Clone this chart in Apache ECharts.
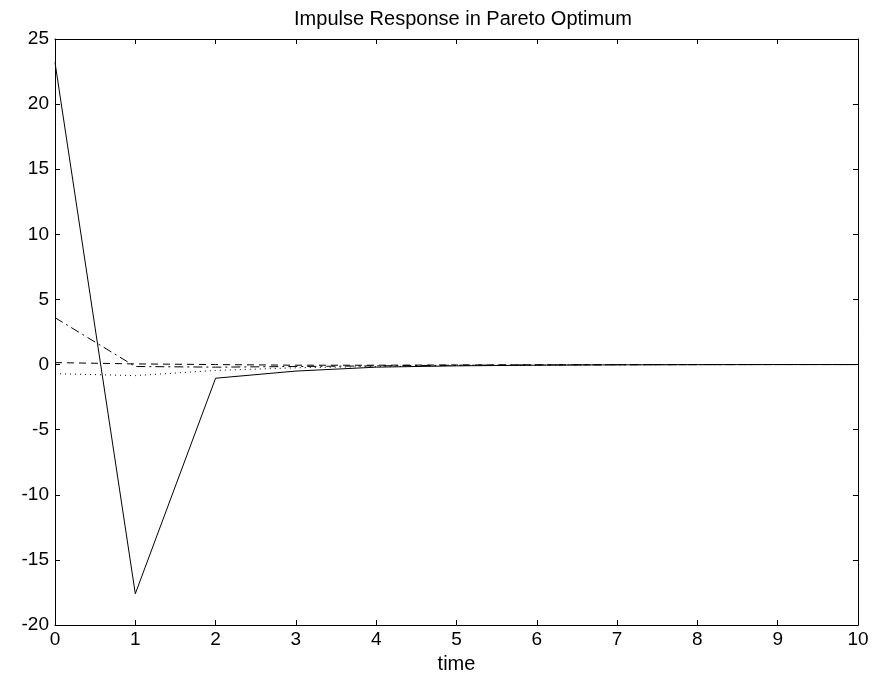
<!DOCTYPE html>
<html>
<head>
<meta charset="utf-8">
<script src="https://cdn.jsdelivr.net/npm/echarts@6/dist/echarts.min.js"></script>
<style>
  html, body { margin: 0; padding: 0; background: #fff; }
  #main { width: 876px; height: 679px; }
</style>
</head>
<body>
<div id="main"></div>
<script>
var time = [0, 1, 2, 3, 4, 5, 6, 7, 8, 9, 10];
var solid = [23.2, -17.6, -1.05, -0.5, -0.2, -0.1, -0.05, -0.02, -0.01, 0, 0];
var dashDot = [3.6, -0.15, -0.2, -0.15, -0.1, -0.05, -0.03, -0.01, 0, 0, 0];
var dashed = [0.15, 0.05, 0, -0.05, -0.05, -0.03, -0.02, -0.01, 0, 0, 0];
var dotted = [-0.7, -0.85, -0.45, -0.25, -0.15, -0.08, -0.04, -0.02, -0.01, 0, 0];
var xTicks = [0, 1, 2, 3, 4, 5, 6, 7, 8, 9, 10];
var yTicks = [-20, -15, -10, -5, 0, 5, 10, 15, 20, 25];

function pairs(ys) {
  return time.map(function (t, i) { return [t, ys[i]]; });
}

var chart = echarts.init(document.getElementById('main'));
var font = 'Liberation Sans, Arial, sans-serif';
var axisLine = { show: true, onZero: false, lineStyle: { color: '#000', width: 1 } };
var tick = { show: true, inside: true, length: 5, lineStyle: { color: '#000' } };

function lineSeries(data, type) {
  return {
    type: 'line',
    data: pairs(data),
    symbol: 'none',
    animation: false,
    lineStyle: { color: '#000', width: 1, type: type }
  };
}

var option = {
  animation: false,
  title: {
    text: 'Impulse Response in Pareto Optimum',
    left: 458, textAlign: 'center', top: 4,
    textStyle: { fontFamily: font, fontSize: 20, fontWeight: 'normal', color: '#000' }
  },
  grid: { left: 55, top: 39, right: 18, bottom: 53 },
  xAxis: [{
    type: 'value', min: 0, max: 10, interval: 1, position: 'bottom',
    name: 'time', nameLocation: 'middle', nameGap: 29,
    nameTextStyle: { fontFamily: font, fontSize: 20, color: '#000' },
    axisLine: axisLine, axisTick: tick, splitLine: { show: false },
    axisLabel: { fontFamily: font, fontSize: 19, color: '#000', margin: 5,
      formatter: function (v) { return xTicks.indexOf(v) >= 0 ? String(v) : ''; } }
  }, {
    type: 'value', min: 0, max: 10, interval: 1, position: 'top',
    axisLine: axisLine, axisTick: tick, splitLine: { show: false },
    axisLabel: { show: false }
  }],
  yAxis: [{
    type: 'value', min: -20, max: 25, interval: 5, position: 'left',
    axisLine: axisLine, axisTick: tick, splitLine: { show: false },
    axisLabel: { fontFamily: font, fontSize: 19, color: '#000', margin: 6,
      formatter: function (v) { return yTicks.indexOf(v) >= 0 ? String(v) : ''; } }
  }, {
    type: 'value', min: -20, max: 25, interval: 5, position: 'right',
    axisLine: axisLine, axisTick: tick, splitLine: { show: false },
    axisLabel: { show: false }
  }],
  series: [
    lineSeries(solid, 'solid'),
    lineSeries(dashDot, [9, 4, 2, 4]),
    lineSeries(dashed, [7, 5]),
    lineSeries(dotted, [1, 4])
  ]
};
chart.setOption(option);
</script>
</body>
</html>
